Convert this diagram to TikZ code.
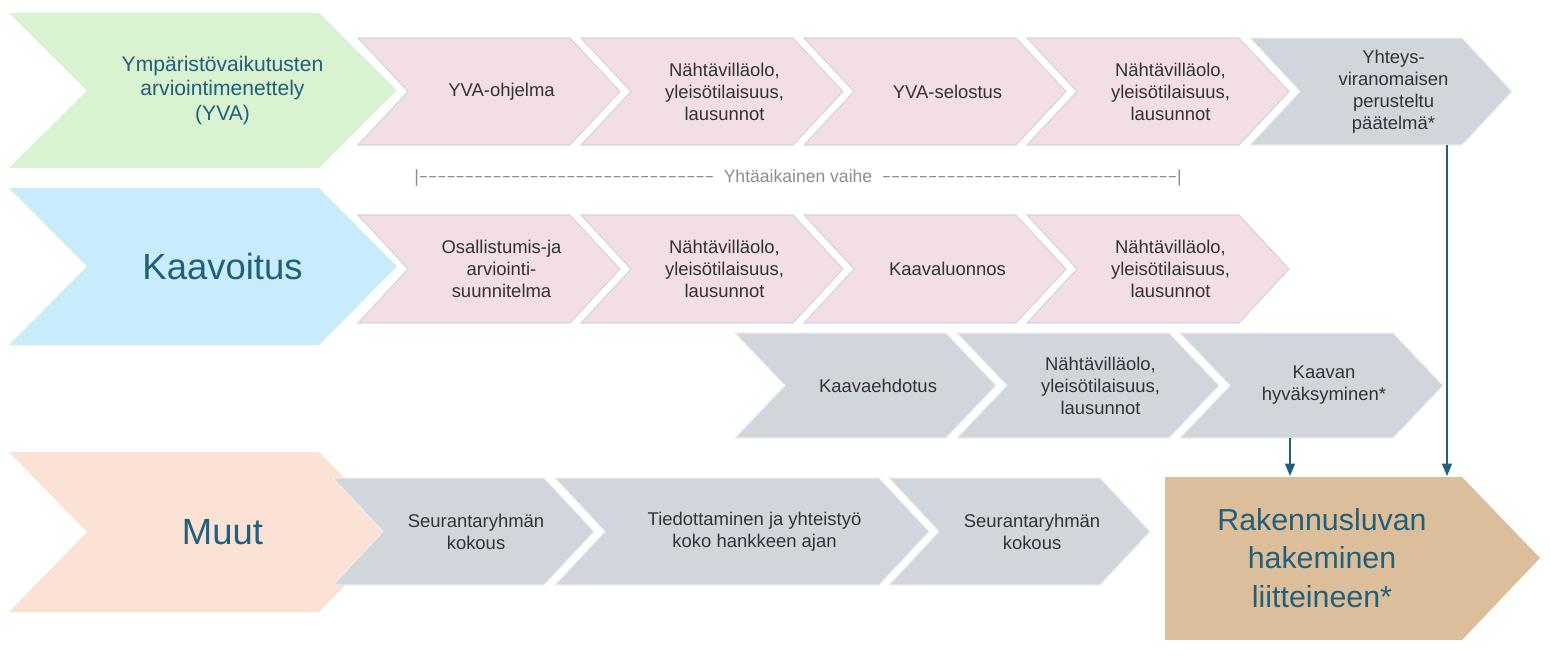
\documentclass[tikz,border=0pt]{standalone}
\usepackage{fontspec}
\setmainfont{Liberation Sans}
\usetikzlibrary{arrows.meta}
\definecolor{colour_yva}{HTML}{D9F2D0}
\definecolor{colour_kaava}{HTML}{C9ECFA}
\definecolor{colour_muut}{HTML}{FBE2D5}
\definecolor{colour_pink}{HTML}{F2DEE3}
\definecolor{colour_grey}{HTML}{D1D6DD}
\definecolor{colour_lupa}{HTML}{DDBE9A}
\definecolor{colour_title}{HTML}{215F7A}

% chevron: name, x1, x2, ytop, ybot, depth, style, text
\newcommand{\chevron}[8]{%
  \path[#7] (#2,#4) -- ({#3-#6},#4) -- (#3,{(#4+#5)/2}) -- ({#3-#6},#5)
    -- (#2,#5) -- ({#2+#6},{(#4+#5)/2}) -- cycle;
  \node[txt] (#1) at ({(#2+#3)/2+#6/4},{(#4+#5)/2}) {#8};}
\newcommand{\dashes}{\texttt{-{}-{}-{}-{}-{}-{}-{}-{}-{}-{}-{}-{}-{}-{}-{}-{}-{}-{}-{}-{}-{}-{}-{}-{}-{}-{}-{}-{}-{}-{}-{}-}}

\begin{document}
\begin{tikzpicture}[
    x=0.02cm, y=-0.02cm,
    txt/.style={align=center, font=\fontsize{10.5}{12.5}\selectfont, text=black!80},
    title/.style={txt, text=colour_title},
    pinkbox/.style={fill=colour_pink, draw=colour_grey, line width=0.6pt},
    greybox/.style={fill=colour_grey, draw=colour_grey!80!black!20, line width=0.6pt},
    arrow/.style={-{Triangle[length=2.5mm, width=2mm]}, thick, colour_title}
]
\useasboundingbox (0,0) rectangle (1550,654);

% YVA row
\chevron{yva}{9}{397}{13}{168}{78}{fill=colour_yva}{}
\node[title, font=\large] at (yva) {Ympäristövaikutusten\\arviointimenettely\\(YVA)};
\chevron{ohj}{358}{620}{38}{145}{50}{pinkbox}{YVA-ohjelma}
\chevron{nah1}{581}{843}{38}{145}{50}{pinkbox}{Nähtävilläolo,\\yleisötilaisuus,\\lausunnot}
\chevron{sel}{804}{1066}{38}{145}{50}{pinkbox}{YVA-selostus}
\chevron{nah2}{1027}{1289}{38}{145}{50}{pinkbox}{Nähtävilläolo,\\yleisötilaisuus,\\lausunnot}
\chevron{pat}{1250}{1512}{38}{145}{50}{greybox}{Yhteys-\\viranomaisen\\perusteltu\\päätelmä*}

% simultaneous phase
\node[txt, text=black!45, font=\normalsize] (vaihe) at (798,178)
  {|\dashes\ \ Yhtäaikainen vaihe\ \ \dashes|};

% Kaavoitus row
\chevron{kaava}{9}{397}{188}{345}{78}{fill=colour_kaava}{}
\node[title, font=\huge] at (kaava) {Kaavoitus};
\chevron{oas}{358}{620}{215}{323}{50}{pinkbox}{Osallistumis-ja\\arviointi-\\suunnitelma}
\chevron{nah3}{581}{843}{215}{323}{50}{pinkbox}{Nähtävilläolo,\\yleisötilaisuus,\\lausunnot}
\chevron{luon}{804}{1066}{215}{323}{50}{pinkbox}{Kaavaluonnos}
\chevron{nah4}{1027}{1289}{215}{323}{50}{pinkbox}{Nähtävilläolo,\\yleisötilaisuus,\\lausunnot}

% Kaavaehdotus row
\chevron{ehd}{735}{996}{333}{438}{50}{greybox}{Kaavaehdotus}
\chevron{nah5}{957}{1219}{333}{438}{50}{greybox}{Nähtävilläolo,\\yleisötilaisuus,\\lausunnot}
\chevron{hyv}{1180}{1443}{333}{438}{50}{greybox}{Kaavan\\hyväksyminen*}

% Muut row
\chevron{muut}{9}{397}{452}{612}{78}{fill=colour_muut}{}
\node[title, font=\huge] at (muut) {Muut};
\chevron{seur1}{333}{594}{478}{585}{50}{greybox}{Seurantaryhmän\\kokous}
\chevron{tied}{555}{929}{478}{585}{50}{greybox}{Tiedottaminen ja yhteistyö\\koko hankkeen ajan}
\chevron{seur2}{889}{1150}{478}{585}{50}{greybox}{Seurantaryhmän\\kokous}
\fill[colour_lupa] (1165,477) -- (1462,477) -- (1540,558) -- (1462,640) -- (1165,640) -- cycle;
\node[title, font=\LARGE] (lupa) at (1322,558) {Rakennusluvan\\hakeminen\\liitteineen*};

% arrows
\coordinate (pat_out) at (1447,145);
\coordinate (pat_in) at (1447,476);
\coordinate (hyv_out) at (1290,438);
\coordinate (hyv_in) at (1290,476);
\draw[arrow] (pat_out) -- (pat_in);
\draw[arrow] (hyv_out) -- (hyv_in);

\end{tikzpicture}
\end{document}
